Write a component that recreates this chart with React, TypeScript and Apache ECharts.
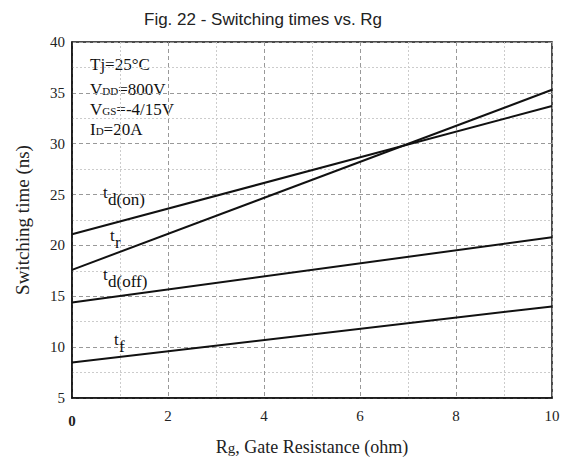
import React, { useEffect, useRef } from "react";
import * as echarts from "echarts";

const rgValues = [0, 10];
const tdOn = [21.1, 33.7];
const tr = [17.6, 35.3];
const tdOff = [14.4, 20.8];
const tf = [8.5, 14.0];
const yTicks = [5, 40, 5];
const xTicks = [0, 10, 2];

const serif = "'Liberation Serif', 'Times New Roman', serif";

function pairs(ys: number[]) {
  return rgValues.map((x, i) => [x, ys[i]]);
}

function curveLabel(sub: string, coord: [number, number]) {
  const base = { fontFamily: serif, fontSize: 17, color: "#111" };
  return {
    symbol: "circle",
    symbolSize: 0,
    silent: true,
    data: [
      {
        coord,
        value: "t",
        label: { show: true, position: "right", distance: 0, formatter: "t", ...base },
      },
      {
        coord,
        value: sub,
        label: { show: true, position: "right", distance: 0, offset: [5, 7], formatter: sub, ...base },
      },
    ],
  };
}

function lineSeries(name: string, ys: number[], sub: string, coord: [number, number]) {
  return {
    name,
    type: "line",
    data: pairs(ys),
    showSymbol: false,
    symbol: "none",
    lineStyle: { color: "#111", width: 2 },
    markPoint: curveLabel(sub, coord),
  };
}

export default function App() {
  const ref = useRef<HTMLDivElement>(null);
  useEffect(() => {
    if (!ref.current) return;
    const chart = echarts.init(ref.current, null, { renderer: "svg" });
    const annot = (text: string, y: number) => ({
      type: "text",
      left: 90,
      top: y,
      style: {
        text,
        fill: "#111",
        font: `17px ${serif}`,
        rich: {
          a: { fontFamily: serif, fontSize: 17, fill: "#111", verticalAlign: "bottom" },
          s: { fontFamily: serif, fontSize: 11, fill: "#111", verticalAlign: "bottom", padding: [0, 0, 2, 0] },
        },
      },
    });
    chart.setOption({
      animation: false,
      backgroundColor: "#fff",
      title: {
        text: "Fig. 22 - Switching times vs. Rg",
        left: 139,
        top: 6,
        textStyle: { fontFamily: "'Liberation Sans', Arial, sans-serif", fontSize: 17, fontWeight: "normal", color: "#222" },
      },
      grid: {
        left: 72,
        right: 16,
        top: 42,
        bottom: 61,
        show: true,
        borderColor: "#111",
        borderWidth: 1.5,
        containLabel: false,
        outerBoundsMode: "none",
      },
      xAxis: {
        type: "value",
        min: xTicks[0],
        max: xTicks[1],
        interval: xTicks[2],
        name: "{a|R}{g|g}{a|, Gate Resistance (ohm)}",
        nameLocation: "middle",
        nameGap: 34,
        nameTextStyle: {
          rich: {
            a: { fontFamily: serif, fontSize: 18, color: "#222", verticalAlign: "top", lineHeight: 18 },
            g: { fontFamily: serif, fontSize: 15, color: "#222", verticalAlign: "bottom", lineHeight: 15, padding: [8, 0, 0, 0] },
          },
        },
        axisLine: { show: true, lineStyle: { color: "#111", width: 1.5 } },
        axisTick: { show: false },
        minorTick: { show: false, splitNumber: 2 },
        axisLabel: {
          margin: 10,
          fontFamily: serif,
          fontSize: 15,
          color: "#222",
          formatter: (v: number) => (v === 0 ? "{b|0}" : String(v)),
          rich: { b: { fontFamily: serif, fontSize: 15, fontWeight: "bold", color: "#222", padding: [5, 0, 0, 0] } },
        },
        splitLine: { show: true, lineStyle: { color: "#999", type: [4, 3], width: 1 } },
        minorSplitLine: { show: true, lineStyle: { color: "#ccc", type: [2, 2], width: 1 } },
      },
      yAxis: {
        type: "value",
        min: yTicks[0],
        max: yTicks[1],
        interval: yTicks[2],
        name: "Switching time (ns)",
        nameLocation: "middle",
        nameGap: 40,
        nameTextStyle: { fontFamily: serif, fontSize: 19, color: "#222" },
        axisLine: { show: true, lineStyle: { color: "#111", width: 1.5 } },
        axisTick: { show: false },
        minorTick: { show: false, splitNumber: 2 },
        axisLabel: { margin: 7, fontFamily: serif, fontSize: 15, color: "#222" },
        splitLine: { show: true, lineStyle: { color: "#999", type: [4, 3], width: 1 } },
        minorSplitLine: { show: true, lineStyle: { color: "#ccc", type: [2, 2], width: 1 } },
      },
      series: [
        lineSeries("td(on)", tdOn, "d(on)", [0.646, 25.16]),
        lineSeries("tr", tr, "r", [0.79, 20.93]),
        lineSeries("td(off)", tdOff, "d(off)", [0.646, 17.19]),
        lineSeries("tf", tf, "f", [0.875, 10.75]),
      ],
      graphic: [
        annot("{a|Tj=25°C}", 56),
        annot("{a|V}{s|DD}{a|=800V}", 81),
        annot("{a|V}{s|GS}{a|=-4/15V}", 101),
        annot("{a|I}{s|D}{a|=20A}", 121),
      ],
    });
    return () => chart.dispose();
  }, []);
  return <div ref={ref} style={{ position: "fixed", left: 0, top: 0, width: 568, height: 459 }} />;
}
